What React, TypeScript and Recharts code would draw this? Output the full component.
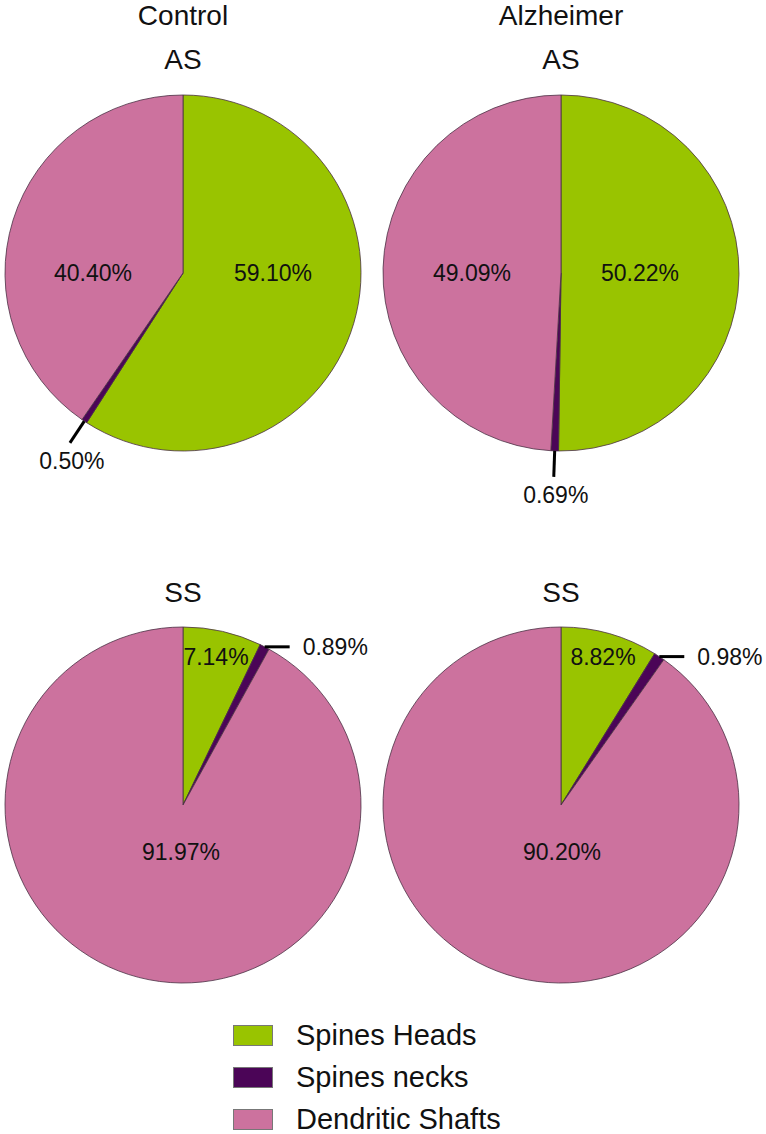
import { PieChart, Pie, Cell, Legend } from 'recharts';

const categories = ['Spines Heads', 'Spines necks', 'Dendritic Shafts'];
const controlAS = [59.1, 0.5, 40.4];
const alzheimerAS = [50.22, 0.69, 49.09];
const controlSS = [7.14, 0.89, 91.97];
const alzheimerSS = [8.82, 0.98, 90.2];

const COLORS = ['#99c400', '#4b0557', '#cc729e'];
const FONT = '"Liberation Sans", Arial, sans-serif';
const RADIAN = Math.PI / 180;
const R = 178;

const toRows = (values: number[]) => categories.map((name, i) => ({ name, value: values[i] }));

// where each pie sits and how its labels are placed (offsets from the pie centre)
const pies = [
  { key: 'cAS', values: controlAS, cx: 183, cy: 273, inner: [[90, 0], null, [-90, 0]], leader: 'radial' },
  { key: 'aAS', values: alzheimerAS, cx: 561, cy: 273, inner: [[79, 0], null, [-89, 0]], leader: 'radial' },
  { key: 'cSS', values: controlSS, cx: 183, cy: 805, inner: [[33, -148], null, [-2, 47]], leader: 'horizontal' },
  { key: 'aSS', values: alzheimerSS, cx: 561, cy: 805, inner: [[42, -148], null, [1, 47]], leader: 'horizontal' },
];

const makeLabel = (cfg: (typeof pies)[number]) => (props: any) => {
  const { cx, cy, midAngle, outerRadius, index, value } = props;
  const text = `${Number(value).toFixed(2)}%`;
  const off = cfg.inner[index];
  if (off) {
    return (
      <text x={cx + off[0]} y={cy + off[1]} textAnchor="middle" dominantBaseline="central"
        fontFamily={FONT} fontSize={23} fill="#111">
        {text}
      </text>
    );
  }
  const cos = Math.cos(-midAngle * RADIAN);
  const sin = Math.sin(-midAngle * RADIAN);
  const sx = cx + outerRadius * cos;
  const sy = cy + outerRadius * sin;
  if (cfg.leader === 'radial') {
    const ex = cx + (outerRadius + 26) * cos;
    const ey = cy + (outerRadius + 26) * sin;
    return (
      <g>
        <line x1={sx} y1={sy} x2={ex} y2={ey} stroke="#000" strokeWidth={3} />
        <text x={ex + 2} y={ey + 18} textAnchor="middle" dominantBaseline="central"
          fontFamily={FONT} fontSize={23} fill="#111">
          {text}
        </text>
      </g>
    );
  }
  return (
    <g>
      <line x1={sx} y1={sy} x2={sx + 25} y2={sy} stroke="#000" strokeWidth={3} />
      <text x={sx + 38} y={sy} textAnchor="start" dominantBaseline="central"
        fontFamily={FONT} fontSize={23} fill="#111">
        {text}
      </text>
    </g>
  );
};

const renderLegend = () => (
  <div style={{ fontFamily: FONT, fontSize: 29, lineHeight: '29px', color: '#111' }}>
    {categories.map((name, i) => (
      <div key={name} style={{ display: 'flex', alignItems: 'center', height: 42 }}>
        <span style={{
          display: 'inline-block', width: 38, height: 19, background: COLORS[i],
          border: '1px solid #777', marginRight: 23,
        }} />
        <span>{name}</span>
      </div>
    ))}
  </div>
);

const titles = [
  { text: 'Control', x: 183, y: 25 },
  { text: 'Alzheimer', x: 561, y: 25 },
  { text: 'AS', x: 183, y: 69 },
  { text: 'AS', x: 561, y: 69 },
  { text: 'SS', x: 183, y: 602 },
  { text: 'SS', x: 561, y: 602 },
];

export default function App() {
  return (
    <div style={{ position: 'absolute', left: 0, top: 0, width: 766, height: 1134, background: '#fff' }}>
      <PieChart width={766} height={1134} margin={{ top: 0, right: 0, bottom: 0, left: 0 }}>
        {pies.map((cfg) => (
          <Pie
            key={cfg.key}
            data={toRows(cfg.values)}
            dataKey="value"
            nameKey="name"
            cx={cfg.cx}
            cy={cfg.cy}
            outerRadius={R}
            startAngle={90}
            endAngle={-270}
            stroke="#4a3044"
            strokeWidth={0.8}
            labelLine={false}
            label={makeLabel(cfg)}
            isAnimationActive={false}
          >
            {cfg.values.map((_, i) => (
              <Cell key={`cell-${cfg.key}-${i}`} fill={COLORS[i]} />
            ))}
          </Pie>
        ))}
        <Legend
          content={renderLegend}
          wrapperStyle={{ position: 'absolute', left: 233, top: 1014, width: 320, bottom: 'auto' }}
        />
      </PieChart>
      <svg width={766} height={1134} style={{ position: 'absolute', left: 0, top: 0, pointerEvents: 'none' }}>
        {titles.map((t, i) => (
          <text key={i} x={t.x} y={t.y} textAnchor="middle" fontFamily={FONT} fontSize={28} fill="#111">
            {t.text}
          </text>
        ))}
      </svg>
    </div>
  );
}
